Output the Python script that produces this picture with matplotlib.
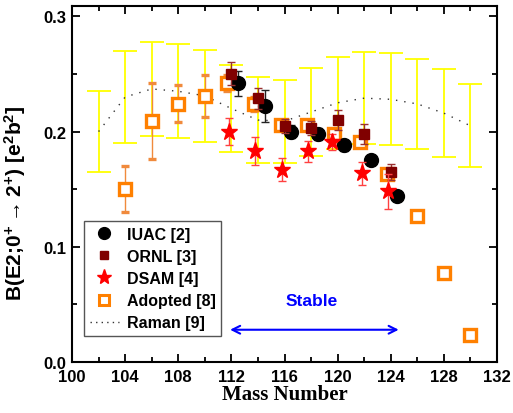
import matplotlib
matplotlib.use("Agg")
import matplotlib.pyplot as plt
from matplotlib.lines import Line2D
from matplotlib.ticker import MultipleLocator, FormatStrFormatter

plt.rcParams["font.family"] = ["Liberation Sans", "DejaVu Sans"]
plt.rcParams["font.weight"] = "bold"
plt.rcParams["mathtext.fontset"] = "custom"
plt.rcParams["mathtext.bf"] = "Liberation Sans:bold"
plt.rcParams["mathtext.rm"] = "Liberation Sans:bold"
plt.rcParams["mathtext.default"] = "bf"

# Raman systematics (dotted curve with yellow bands)
raman_a = [102, 104, 106, 108, 110, 112, 114, 116, 118, 120, 122, 124, 126, 128, 130]
raman_b = [0.200, 0.230, 0.237, 0.235, 0.231, 0.220, 0.210, 0.209, 0.217, 0.225,
           0.229, 0.228, 0.224, 0.216, 0.205]
raman_err = [0.035, 0.040, 0.041, 0.041, 0.040, 0.038, 0.037, 0.036, 0.038, 0.040,
             0.040, 0.040, 0.039, 0.038, 0.036]

# Adopted values
adopted_a = [104, 106, 108, 110, 111.7, 113.7, 115.7, 117.7, 119.7, 121.7, 123.7, 126, 128, 130]
adopted_b = [0.150, 0.209, 0.224, 0.231, 0.242, 0.224, 0.206, 0.206, 0.198, 0.191,
             0.163, 0.127, 0.077, 0.023]
adopted_err = [0.020, 0.033, 0.016, 0.018, 0.007, 0.006, 0.004, 0.004, 0.004, 0.004,
               0.004, 0.004, 0.002, 0.002]

# IUAC
iuac_a = [112.5, 114.5, 116.5, 118.5, 120.5, 122.5, 124.5]
iuac_b = [0.242, 0.222, 0.200, 0.198, 0.188, 0.175, 0.144]
iuac_err = [0.011, 0.014, 0.006, 0.005, 0.005, 0.004, 0.003]

# ORNL
ornl_a = [112, 114, 116, 118, 120, 122, 124]
ornl_b = [0.250, 0.229, 0.205, 0.203, 0.210, 0.198, 0.165]
ornl_err = [0.010, 0.009, 0.006, 0.006, 0.009, 0.009, 0.007]

# DSAM
dsam_a = [111.8, 113.8, 115.8, 117.8, 119.6, 121.8, 123.8]
dsam_b = [0.200, 0.183, 0.167, 0.183, 0.191, 0.164, 0.148]
dsam_err = [0.012, 0.012, 0.010, 0.009, 0.007, 0.010, 0.015]

orange = "#ff8000"
darkred = "#800000"
red = "#ff0000"
yellow = "#ffff00"

fig = plt.figure(figsize=(5.13, 4.14), dpi=100)
ax = fig.add_axes([0.1404, 0.1232, 0.8284, 0.8599])

ax.errorbar(raman_a, raman_b, yerr=raman_err, fmt="none", ecolor=yellow,
            elinewidth=1.3, capsize=8.5, capthick=1.3, zorder=1)
ax.plot(raman_a, raman_b, color="#333333", linestyle=(0, (1, 5)), linewidth=1.0, zorder=2)

ax.errorbar(adopted_a, adopted_b, yerr=adopted_err, fmt="s", color=orange,
            mfc="white", mec=orange, ms=8, mew=2.4, ecolor="#f08a3c",
            elinewidth=1.0, capsize=2.8, zorder=3)
ax.errorbar(iuac_a, iuac_b, yerr=iuac_err, fmt="o", color="black", ms=10,
            ecolor="#222222", elinewidth=1.0, capsize=2.8, zorder=4)
ax.errorbar(ornl_a, ornl_b, yerr=ornl_err, fmt="s", color=darkred, ms=7.5,
            ecolor="#9a3030", elinewidth=1.0, capsize=2.8, zorder=5)
ax.errorbar(dsam_a, dsam_b, yerr=dsam_err, fmt="*", color=red, ms=12.5,
            ecolor="#ff4040", elinewidth=1.0, capsize=2.8, zorder=6)

# stable range
ax.annotate("", xy=(111.9, 0.028), xytext=(124.6, 0.028),
            arrowprops=dict(arrowstyle="<->", color="blue", lw=1.5,
                            mutation_scale=14, shrinkA=0, shrinkB=0))
ax.text(118.05, 0.053, "Stable", color="blue", fontsize=12.5, fontweight="bold",
        ha="center", va="center")

ax.set_xlim(100, 132)
ax.set_ylim(0, 0.309)
ax.xaxis.set_major_locator(MultipleLocator(4))
ax.xaxis.set_minor_locator(MultipleLocator(2))
ax.yaxis.set_major_locator(MultipleLocator(0.1))
ax.yaxis.set_minor_locator(MultipleLocator(0.05))
ax.yaxis.set_major_formatter(FormatStrFormatter("%.1f"))
ax.tick_params(which="both", direction="in", top=True, right=True, width=1.3)
ax.tick_params(which="major", length=6, labelsize=12)
ax.tick_params(axis="x", which="major", pad=5)
ax.tick_params(axis="y", which="major", pad=4)
ax.tick_params(which="minor", length=3.5)
for lbl in ax.get_xticklabels() + ax.get_yticklabels():
    lbl.set_fontweight("bold")
for side in ax.spines.values():
    side.set_linewidth(1.5)

ax.set_xlabel("Mass Number", fontsize=15, fontweight="bold",
              family=["Liberation Serif", "DejaVu Serif"], labelpad=0)
ax.set_ylabel(r"B(E2;0$^{+}$$\rightarrow$2$^{+}$) [e$^{2}$b$^{2}$]", fontsize=15,
              fontweight="bold")
ax.yaxis.set_label_coords(-0.103, 0.45)

handles = [
    Line2D([], [], marker="o", color="black", linestyle="none", ms=8.5),
    Line2D([], [], marker="s", color=darkred, linestyle="none", ms=6),
    Line2D([], [], marker="*", color=red, linestyle="none", ms=11),
    Line2D([], [], marker="s", color=orange, mfc="white", mew=2.2, linestyle="none", ms=6.5),
    Line2D([], [], color="#333333", linestyle=(0, (1, 3)), linewidth=1.0),
]
labels = ["IUAC [2]", "ORNL [3]", "DSAM [4]", "Adopted [8]", "Raman [9]"]
leg = ax.legend(handles, labels, loc="lower left", bbox_to_anchor=(0.029, 0.073),
                fontsize=11.5, frameon=True, fancybox=False, edgecolor="#555555",
                framealpha=1, borderpad=0.35, labelspacing=0.45, handlelength=1.8,
                handletextpad=0.5, borderaxespad=0)
leg.get_frame().set_linewidth(1.0)

fig.savefig("out.png", dpi=100)
